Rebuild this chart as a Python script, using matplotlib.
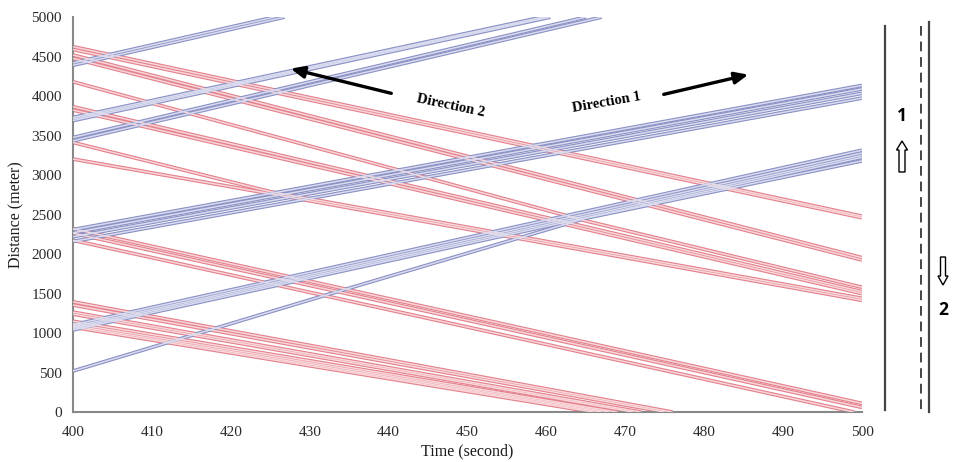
import matplotlib
matplotlib.use("Agg")
import matplotlib.pyplot as plt
import matplotlib.patches as mpatches
from matplotlib.lines import Line2D

# --- trajectories (time in s, distance in m) ---
# direction 1 (upward, blue)
dir1_times = [
    [400, 425.5], [400, 426.8],
    [400, 459.5], [400, 460.0], [400, 460.5],
    [400, 465.0], [400, 467.0],
    [400, 500], [400, 500], [400, 500], [400, 500],
    [400, 500], [400, 500], [400, 500], [400, 500],
    [400, 431, 465, 500],
]
dir1_dist = [
    [4420, 5000], [4390, 5000],
    [3730, 5000], [3710, 5000], [3690, 5000],
    [3476, 5000], [3434, 5000],
    [2310, 4135], [2270, 4090], [2220, 4035], [2160, 3975],
    [1105, 3315], [1080, 3280], [1060, 3250], [1040, 3225],
    [520, 1450, 2455, 3180],
]

# direction 2 (downward, red)
dir2_times = [
    [400, 500], [400, 500],
    [400, 500], [400, 500],
    [400, 465, 500],
    [400, 465, 500], [400, 465, 500],
    [400, 425, 500], [400, 425, 500],
    [400, 500], [400, 500], [400, 499],
    [400, 476], [400, 475], [400, 472], [400, 471],
    [400, 469], [400, 468], [400, 467], [400, 466],
]
dir2_dist = [
    [4625, 2480], [4590, 2460],
    [4520, 1955], [4477, 1925],
    [4181, 2420, 1580],
    [3865, 2345, 1525], [3823, 2315, 1500],
    [3413, 2790, 1440], [3203, 2765, 1415],
    [2320, 110], [2265, 60], [2175, 0],
    [1395, 0], [1355, 0], [1265, 0], [1240, 0],
    [1150, 0], [1120, 0], [1095, 0], [1075, 0],
]

x_ticks = list(range(400, 501, 10))
y_ticks = list(range(0, 5001, 500))

serif = "Liberation Serif"

fig = plt.figure(figsize=(9.61, 4.62), dpi=100)
ax = fig.add_axes([0.076, 0.108, 0.821, 0.855])

def hollow_line(t, d, outer, inner):
    ax.plot(t, d, color=outer, lw=2.7, solid_capstyle="butt", zorder=2)
    ax.plot(t, d, color=inner, lw=1.1, solid_capstyle="butt", zorder=3)

for t, d in zip(dir2_times, dir2_dist):
    hollow_line(t, d, "#e3808b", "#f8d6da")
for t, d in zip(dir1_times, dir1_dist):
    hollow_line(t, d, "#8a90c4", "#d9dbef")

ax.set_xlim(400, 500)
ax.set_ylim(0, 5000)
ax.set_xticks(x_ticks)
ax.set_yticks(y_ticks)
ax.tick_params(length=0, labelsize=11, colors="#2a2a2a")
ax.tick_params(axis="x", pad=10)
ax.tick_params(axis="y", pad=8)
for lab in ax.get_xticklabels() + ax.get_yticklabels():
    lab.set_fontfamily(serif)
for s in ["top", "right"]:
    ax.spines[s].set_visible(False)
for s in ["left", "bottom"]:
    ax.spines[s].set_color("#888888")
    ax.spines[s].set_linewidth(1.5)
ax.set_xlabel("Time (second)", fontsize=11.5, family=serif, color="#1a1a1a", labelpad=3)
ax.set_ylabel("Distance (meter)", fontsize=11.5, family=serif, color="#1a1a1a", labelpad=5)

# overlay in pixel coordinates for the annotations and the road sketch
ov = fig.add_axes([0, 0, 1, 1])
ov.set_xlim(0, 961)
ov.set_ylim(462, 0)
ov.axis("off")
ov.patch.set_alpha(0)

ov.annotate("", xy=(288, 68), xytext=(394, 94),
            arrowprops=dict(arrowstyle="-|>,head_length=0.8,head_width=0.35", color="black", lw=2.4))
ov.text(451, 106, "Direction 2", rotation=-12, ha="center", va="center",
        fontsize=10.5, fontweight="bold", family=serif)
ov.annotate("", xy=(751, 74), xytext=(661, 95),
            arrowprops=dict(arrowstyle="-|>,head_length=0.8,head_width=0.35", color="black", lw=2.4))
ov.text(607, 103, "Direction 1", rotation=10, ha="center", va="center",
        fontsize=10.5, fontweight="bold", family=serif)

# road
ov.add_line(Line2D([885, 885], [26, 410], color="#444444", lw=1.6))
ov.add_line(Line2D([921, 921], [26, 412], color="#444444", lw=1.4, linestyle=(0, (5, 3))))
ov.add_line(Line2D([929, 929], [22, 412], color="#444444", lw=1.6))
ov.text(902, 116, "1", ha="center", va="center", fontsize=12.5, fontweight="bold", family="Open Sans")
ov.text(943, 310, "2", ha="center", va="center", fontsize=12.5, fontweight="bold", family="Open Sans")
ov.add_patch(mpatches.FancyArrow(902, 172, 0, -31, width=6, head_width=11, head_length=9,
                                 length_includes_head=True, facecolor="white", edgecolor="black", lw=1.0))
ov.add_patch(mpatches.FancyArrow(943, 257, 0, 28, width=5, head_width=10, head_length=9,
                                 length_includes_head=True, facecolor="white", edgecolor="black", lw=1.0))

fig.savefig("out.png", dpi=100)
